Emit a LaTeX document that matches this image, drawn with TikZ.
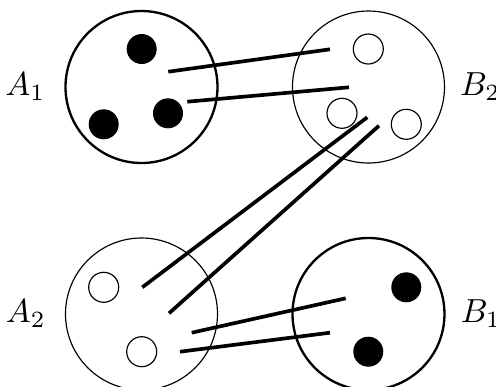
\documentclass[tikz,border=0pt]{standalone}
\usetikzlibrary{positioning}
\begin{document}
\begin{tikzpicture}[
			x=0.3pt, y=-0.3pt,
			ring/.style={draw, circle, minimum size=45.6pt, inner sep=0pt},
			thickring/.style={ring, line width=0.7pt},
			thinring/.style={ring, line width=0.35pt},
			fulldot/.style={circle, fill=black, minimum size=9pt, inner sep=0pt},
			emptydot/.style={circle, draw, line width=0.35pt, minimum size=9pt, inner sep=0pt},
			wire/.style={line width=1.1pt}
			]
			\useasboundingbox (0,0) rectangle (496,387);
			
			% vier grosse Kreise
			\node[thickring] (A1) at (141.5,87) {};
			\node[thinring] (B2) at (368.5,87) {};
			\node[thinring] (A2) at (141.5,314) {};
			\node[thickring] (B1) at (368.5,314) {};
			
			% Beschriftungen
			\node[left=2.2pt of A1] (lA1) {$A_1$};
			\node[right=1pt of B2] (lB2) {$B_2$};
			\node[left=2.2pt of A2] (lA2) {$A_2$};
			\node[right=1pt of B1] (lB1) {$B_1$};
			
			% Punkte
			\node[fulldot] (a11) at (141.7,49) {};
			\node[fulldot] (a12) at (103.7,124.3) {};
			\node[fulldot] (a13) at (168,113.3) {};
			\node[emptydot] (b21) at (368.3,49) {};
			\node[emptydot] (b22) at (342,113.3) {};
			\node[emptydot] (b23) at (406.3,124.3) {};
			\node[emptydot] (a21) at (103.7,287.3) {};
			\node[emptydot] (a22) at (141.7,351.7) {};
			\node[fulldot] (b11) at (406.3,287.3) {};
			\node[fulldot] (b12) at (368.3,351.7) {};
			
			% Endpunkte der Verbindungen
			\coordinate (p1) at (168.3,71.7);
			\coordinate (q1) at (330,49.3);
			\coordinate (p2) at (187.3,101.7);
			\coordinate (q2) at (349,87.3);
			\coordinate (p3) at (367.3,117.3);
			\coordinate (q3) at (142.3,287.3);
			\coordinate (p4) at (379,125.7);
			\coordinate (q4) at (169,313.3);
			\coordinate (p5) at (191.7,332.7);
			\coordinate (q5) at (345.7,298.3);
			\coordinate (p6) at (180,351.7);
			\coordinate (q6) at (330,332.7);
			
			% Verbindungen
			\foreach \i in {1,...,6}
				\draw[wire] (p\i) -- (q\i);
		\end{tikzpicture}
\end{document}
